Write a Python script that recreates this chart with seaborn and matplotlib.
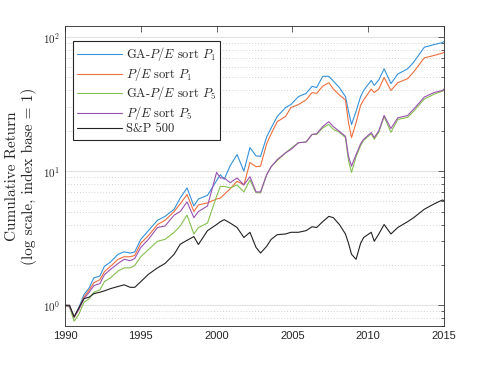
import numpy as np
import pandas as pd
import seaborn as sns
import matplotlib
matplotlib.use("Agg")
import matplotlib.pyplot as plt
from matplotlib.ticker import FixedLocator, FixedFormatter, LogLocator, NullFormatter

# time points (fractional year)
years = [1990.0, 1990.3, 1990.6, 1990.9, 1991.25, 1991.6, 1991.9, 1992.3, 1992.6, 1993.0,
         1993.5, 1993.9, 1994.3, 1994.6, 1995.0, 1995.5, 1996.1, 1996.6, 1997.2, 1997.6,
         1998.05, 1998.5, 1998.8, 1999.4, 2000.0, 2000.25, 2000.5, 2000.9, 2001.35, 2001.8,
         2002.2, 2002.6, 2002.9, 2003.3, 2003.6, 2004.0, 2004.55, 2004.9, 2005.4, 2005.9,
         2006.3, 2006.6, 2007.0, 2007.4, 2007.7, 2008.1, 2008.5, 2008.7, 2008.9, 2009.2,
         2009.5, 2009.7, 2010.2, 2010.4, 2010.7, 2011.05, 2011.5, 2011.95, 2012.6, 2013.0,
         2013.7, 2014.35, 2014.9, 2015.0]

ga_pe_p1 = [1.0, 0.98, 0.81, 0.95, 1.2, 1.35, 1.6, 1.65, 1.95, 2.1,
            2.4, 2.5, 2.45, 2.5, 3.1, 3.6, 4.3, 4.6, 5.2, 6.3,
            7.5, 5.5, 6.2, 6.6, 8.5, 9.4, 8.7, 11.0, 13.3, 10.0,
            15.0, 13.0, 12.9, 18.0, 21.0, 25.6, 29.8, 31.4, 36, 38,
            43, 42, 51, 51, 47, 42, 36, 28, 22.3, 28,
            36, 40, 47.5, 43.6, 48, 58, 45, 53, 58, 65,
            84, 88, 91, 93]

pe_p1 = [1.0, 0.97, 0.81, 0.93, 1.15, 1.3, 1.47, 1.55, 1.78, 1.95,
         2.2, 2.3, 2.3, 2.35, 2.9, 3.3, 4.0, 4.3, 5.0, 5.7,
         6.7, 5.0, 5.6, 5.8, 6.2, 6.3, 6.7, 7.4, 8.4, 7.9,
         11.6, 10.8, 10.9, 16.0, 19.0, 23.4, 25.6, 29.8, 31.4, 34,
         38.6, 38, 43, 45.7, 41, 37, 34, 23, 17.8, 23,
         31, 34, 41, 38.6, 41, 50, 40, 45.7, 49, 55,
         70, 73, 76, 77]

ga_pe_p5 = [1.0, 0.97, 0.76, 0.85, 1.05, 1.12, 1.25, 1.3, 1.5, 1.6,
            1.8, 1.9, 1.9, 1.98, 2.3, 2.6, 3.0, 3.1, 3.5, 3.9,
            4.7, 3.4, 3.8, 4.1, 6.5, 7.7, 7.7, 7.5, 7.9, 7.0,
            8.6, 6.9, 6.9, 9.4, 10.8, 12.0, 13.7, 14.8, 16.3, 16.5,
            18.8, 18.8, 21, 22.3, 20.5, 19.5, 17.8, 12.0, 9.8, 12.8,
            15.5, 17.0, 19.0, 17.3, 19.5, 25.5, 19.5, 24.3, 25.2, 28,
            34.5, 37.5, 39.5, 40]

pe_p5 = [1.0, 0.98, 0.82, 0.92, 1.12, 1.25, 1.4, 1.45, 1.69, 1.85,
         2.05, 2.2, 2.15, 2.23, 2.7, 3.1, 3.8, 3.9, 4.7, 5.0,
         5.9, 4.5, 5.0, 5.5, 9.8, 8.9, 8.9, 8.2, 8.9, 7.9,
         9.1, 7.0, 7.0, 9.4, 10.8, 12.2, 13.7, 14.5, 16.3, 16.5,
         18.8, 19.0, 21.5, 23.4, 21.5, 19.8, 18.2, 12.9, 10.9, 13.3,
         16, 17.3, 19.4, 17.8, 20, 26, 20.8, 25, 26, 29,
         35.7, 38.6, 40, 41]

sp500 = [1.0, 1.0, 0.82, 0.95, 1.12, 1.15, 1.22, 1.25, 1.28, 1.33,
         1.38, 1.42, 1.36, 1.36, 1.5, 1.7, 1.9, 2.05, 2.4, 2.85,
         3.05, 3.25, 2.84, 3.6, 4.0, 4.2, 4.35, 4.1, 3.8, 3.2,
         3.5, 2.7, 2.45, 2.75, 3.1, 3.36, 3.4, 3.5, 3.5, 3.6,
         3.85, 3.8, 4.2, 4.6, 4.5, 4.0, 3.4, 2.9, 2.4, 2.2,
         2.9, 3.2, 3.5, 3.0, 3.4, 4.0, 3.4, 3.8, 4.2, 4.5,
         5.2, 5.7, 6.1, 6.0]

labels = ["GA-$P/E$ sort $P_1$", "$P/E$ sort $P_1$", "GA-$P/E$ sort $P_5$",
          "$P/E$ sort $P_5$", "S&P 500"]
colors = ["#3592da", "#ee6e3c", "#86c04f", "#9a52b2", "#222222"]

series = [ga_pe_p1, pe_p1, ga_pe_p5, pe_p5, sp500]
df = pd.concat([pd.DataFrame({"year": years, "value": s, "series": lab})
                for s, lab in zip(series, labels)], ignore_index=True)

sns.set_style("white")
plt.rcParams["mathtext.fontset"] = "cm"
plt.rcParams["font.family"] = ["Liberation Sans", "DejaVu Sans"]

fig = plt.figure(figsize=(4.91, 3.67), dpi=100)
ax = fig.add_axes([65 / 491, 1 - 326 / 367, 379 / 491, 300 / 367])

sns.lineplot(data=df, x="year", y="value", hue="series", palette=dict(zip(labels, colors)),
             linewidth=0.8, ax=ax, legend=False)

ax.set_yscale("log")
ax.set_xlim(1990, 2015)
ax.set_ylim(0.7, 121)

ax.xaxis.set_major_locator(FixedLocator([1990, 1995, 2000, 2005, 2010, 2015]))
ax.yaxis.set_major_locator(FixedLocator([1, 10, 100]))
ax.yaxis.set_major_formatter(FixedFormatter([r"$\mathsf{10^{0}}$", r"$\mathsf{10^{1}}$", r"$\mathsf{10^{2}}$"]))
ax.yaxis.set_minor_locator(LogLocator(base=10, subs=np.arange(2, 10)))
ax.yaxis.set_minor_formatter(NullFormatter())

ax.tick_params(which="both", direction="in", top=True, right=True, colors="#262626",
               labelsize=8, width=0.5)
ax.tick_params(which="major", length=4)
ax.tick_params(which="minor", length=2)

ax.grid(axis="y", which="major", color="#e2e2e2", linestyle="-", linewidth=0.8)
ax.grid(axis="y", which="minor", color="#c4c4c4", linestyle=(0, (1, 2.5)), linewidth=0.6)
ax.grid(axis="x", visible=False)
for sp in ax.spines.values():
    sp.set_color("#262626")
    sp.set_linewidth(0.6)

ax.set_xlabel("")
ax.set_ylabel("Cumulative Return\n(log scale, index base = 1)", fontfamily="cmr10",
              fontsize=11, labelpad=4)

handles = ax.get_lines()[:5]
leg = ax.legend(handles, labels, loc="upper left", bbox_to_anchor=(0.02, 0.95),
                fancybox=False, edgecolor="#262626", framealpha=1,
                prop={"family": "cmr10", "size": 9}, handlelength=3.6,
                labelspacing=0.12, borderpad=0.35, handletextpad=0.3, borderaxespad=0)
leg.get_frame().set_linewidth(0.8)

fig.savefig("out.png", dpi=100)
